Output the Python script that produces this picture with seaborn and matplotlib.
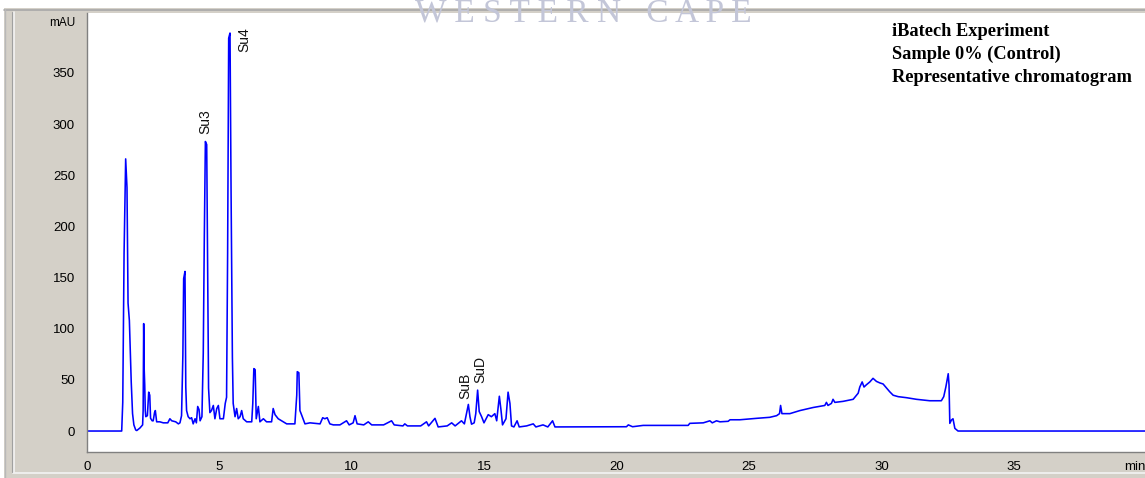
import matplotlib
matplotlib.use("Agg")
import matplotlib.pyplot as plt
import seaborn as sns
import pandas as pd
from matplotlib.patches import Rectangle
from matplotlib.lines import Line2D
from matplotlib.ticker import MultipleLocator, FixedLocator, FixedFormatter

# ---- data ----
retention_min = [
    0.00, 1.31, 1.35, 1.40, 1.46, 1.51, 1.55, 1.60, 1.63, 1.67, 1.72, 1.77, 1.84, 1.88, 2.00,
    2.10, 2.12, 2.14, 2.16, 2.18, 2.20, 2.22, 2.28, 2.33, 2.37, 2.40, 2.46, 2.50, 2.55, 2.58,
    2.63, 2.75, 2.88, 3.05, 3.13, 3.20, 3.35, 3.45, 3.51, 3.57, 3.62, 3.65, 3.70, 3.73, 3.76,
    3.82, 3.89, 3.95, 4.01, 4.08, 4.13, 4.18, 4.23, 4.27, 4.34, 4.39, 4.43, 4.47, 4.52, 4.56,
    4.59, 4.64, 4.70, 4.77, 4.83, 4.90, 4.96, 5.02, 5.15, 5.22, 5.27, 5.31, 5.35, 5.40, 5.44,
    5.49, 5.52, 5.59, 5.65, 5.71, 5.78, 5.84, 5.90, 6.03, 6.22, 6.26, 6.30, 6.35, 6.39, 6.47,
    6.53, 6.66, 6.78, 6.97, 7.03, 7.10, 7.22, 7.41, 7.54, 7.85, 7.92, 7.94, 8.00, 8.04, 8.10,
    8.23, 8.42, 8.80, 8.90, 8.98, 9.07, 9.17, 9.30, 9.55, 9.80, 9.90, 10.05, 10.12, 10.20, 10.45,
    10.62, 10.75, 11.20, 11.50, 11.60, 11.93, 12.00, 12.10, 12.60, 12.82, 12.90, 13.14, 13.26, 13.60, 13.77,
    13.90, 14.14, 14.25, 14.40, 14.46, 14.52, 14.62, 14.68, 14.75, 14.81, 14.90, 14.99, 15.15, 15.27, 15.40,
    15.47, 15.57, 15.63, 15.69, 15.82, 15.90, 15.97, 16.03, 16.12, 16.24, 16.32, 16.60, 16.85, 16.95, 17.22,
    17.40, 17.58, 17.67, 20.37, 20.44, 20.60, 21.00, 22.70, 22.76, 23.27, 23.52, 23.61, 23.77, 23.90, 24.21,
    24.28, 24.65, 25.28, 25.78, 26.04, 26.15, 26.19, 26.24, 26.54, 26.92, 27.42, 27.86, 27.92, 27.98, 28.11,
    28.17, 28.24, 28.55, 28.93, 29.12, 29.18, 29.27, 29.34, 29.42, 29.56, 29.68, 29.81, 29.94, 30.06, 30.19,
    30.31, 30.44, 30.63, 30.94, 31.32, 31.82, 32.26, 32.35, 32.43, 32.52, 32.55, 32.58, 32.64, 32.70, 32.77,
    32.89, 39.95,
]
absorbance_mau = [
    0, 0, 28, 174, 266, 238, 125, 108, 82, 48, 17, 6, 1, 0.5, 3,
    6, 20, 105, 60, 45, 20, 14, 15, 38, 35, 12.5, 10, 10, 18, 20,
    9, 9, 8, 8, 12, 10, 9, 7, 8, 15, 74, 149, 156, 43, 20,
    14, 12, 13, 7, 12, 8, 24, 21, 10, 14, 76, 190, 283, 280, 146,
    42, 18, 20, 25, 12, 22, 25, 12, 12, 27, 33, 174, 384, 389, 234,
    72, 27, 14, 22, 12, 14, 20, 12, 9, 9, 27, 61, 60, 12, 24,
    9, 12, 9, 9, 22, 16, 12, 9, 7, 7, 35, 58, 57, 20, 16,
    7, 8, 7, 13, 12, 13, 7, 6, 6, 10, 6, 8, 15, 7, 6,
    9, 6, 6, 10, 6, 5, 7, 5, 5, 9, 5, 12.4, 4, 5, 8,
    5, 10, 7, 26, 14, 6.7, 8, 17, 40, 19, 14, 8, 16, 14, 17,
    10, 34, 21, 6, 12, 38, 27, 5, 4, 10, 4, 5, 7, 4, 6,
    4, 10, 4, 4.2, 6, 4.2, 5.5, 5.5, 7.5, 8, 10, 8, 10, 9, 9.5,
    11, 11, 12.4, 13.4, 15, 17, 25, 17, 17, 20, 23, 25, 28, 25, 27,
    31, 28, 29, 31, 37, 43, 48, 43, 45, 48, 51.5, 48.5, 47, 46, 42,
    38.4, 35, 33.6, 32.6, 31, 29.6, 29.6, 33.6, 43, 56, 45, 7.5, 10.7, 12, 2.6,
    0, 0,
]

peak_names = ["Su3", "Su4", "SuB", "SuD"]
peak_label_time = [4.45, 5.93, 14.27, 14.84]
peak_label_base = [290, 370, 31, 47]

y_major_ticks = [0, 50, 100, 150, 200, 250, 300, 350, 400]
y_major_labels = ["0", "50", "100", "150", "200", "250", "300", "350", "mAU"]
x_major_ticks = [0, 5, 10, 15, 20, 25, 30, 35]
x_major_labels = ["0", "5", "10", "15", "20", "25", "30", "35"]
x_unit_label = "min"

info_lines = ["iBatech Experiment", "Sample 0% (Control)", "Representative chromatogram"]
watermark_text = "W E S T E R N   C A P E"

# ---- figure ----
W, H = 1145, 478
sns.set_style("white")
plt.rcParams["font.family"] = ["Liberation Sans", "DejaVu Sans"]

fig = plt.figure(figsize=(W / 100, H / 100), dpi=100, facecolor="white")


def px_rect(x0, y0, x1, y1, **kw):
    fig.patches.append(Rectangle((x0 / W, 1 - y1 / H), (x1 - x0) / W, (y1 - y0) / H,
                                 transform=fig.transFigure, figure=fig, **kw))


def px_line(x0, y0, x1, y1, **kw):
    fig.lines.append(Line2D([x0 / W, x1 / W], [1 - y0 / H, 1 - y1 / H],
                            transform=fig.transFigure, figure=fig, **kw))


# window-style frame
px_rect(4, 8, W, H, facecolor="#d4d0c8", edgecolor="none", zorder=-2)
px_line(4, 9.5, W, 9.5, color="#a8a8a8", lw=1.2, zorder=-1)
px_line(4.5, 9, 4.5, H, color="#b8b8b8", lw=1.0, zorder=-1)
px_line(13.5, 12, 13.5, 472, color="#f4f4f4", lw=1.2, zorder=-1)
px_line(13, 472.5, W, 472.5, color="#f4f4f4", lw=1.2, zorder=-1)
px_line(12, 12, 12, 472, color="#a0a0a0", lw=0.8, zorder=-1)

ax_left, ax_right, ax_top, ax_bottom = 87, W, 13, 452
ax = fig.add_axes([ax_left / W, (H - ax_bottom) / H, (ax_right - ax_left) / W, (ax_bottom - ax_top) / H])
ax.set_zorder(1)
ax.set_facecolor("white")

df = pd.DataFrame({"t": retention_min, "v": absorbance_mau})
sns.lineplot(data=df, x="t", y="v", ax=ax, color="#0000ff", linewidth=1.15,
             estimator=None, sort=False, legend=False)

ax.set_xlim(0, 39.95)
ax.set_ylim(-20.5, 408.6)
ax.set_xlabel("")
ax.set_ylabel("")

for side in ["top", "right"]:
    ax.spines[side].set_visible(False)
for side in ["left", "bottom"]:
    ax.spines[side].set_color("#808080")
    ax.spines[side].set_linewidth(1.0)

ax.yaxis.set_major_locator(FixedLocator(y_major_ticks))
ax.yaxis.set_major_formatter(FixedFormatter(y_major_labels))
ax.yaxis.set_minor_locator(MultipleLocator(10))
ax.xaxis.set_major_locator(FixedLocator(x_major_ticks))
ax.xaxis.set_major_formatter(FixedFormatter(x_major_labels))
ax.xaxis.set_minor_locator(MultipleLocator(1))

px = 0.72  # points per pixel at 100 dpi
ax.tick_params(axis="y", which="major", direction="out", length=8 * px, width=1.0,
               color="#707070", pad=4 * px, labelsize=9.5, labelcolor="#000000")
ax.tick_params(axis="y", which="minor", direction="out", length=5 * px, width=1.0, color="#808080")
ax.tick_params(axis="x", which="major", direction="out", length=5 * px, width=1.0,
               color="#707070", pad=4 * px, labelsize=9.5, labelcolor="#000000")
ax.tick_params(axis="x", which="minor", direction="out", length=3 * px, width=1.0, color="#808080")
for lab in ax.get_yticklabels():
    if lab.get_text() == "mAU":
        lab.set_fontsize(8.5)

ax.annotate(x_unit_label, xy=(39.17, 0), xycoords=("data", "axes fraction"),
            xytext=(0, -9 * px), textcoords="offset points", ha="left", va="top",
            fontsize=9.5, color="#000000", annotation_clip=False)

for name, t, base in zip(peak_names, peak_label_time, peak_label_base):
    ax.text(t, base, name, rotation=90, ha="center", va="bottom", fontsize=10,
            color="#111111", family=["Liberation Sans", "DejaVu Sans"])

for i, line in enumerate(info_lines):
    fig.text(892 / W, 1 - (32 + 22.5 * i) / H, line, ha="left", va="center",
             fontsize=13.2, fontweight="bold", family=["Liberation Serif", "DejaVu Serif"],
             color="#000000", zorder=6)

fig.text(583 / W, 1 - 22 / H, watermark_text, ha="center", va="baseline",
         fontsize=24, family=["Liberation Serif", "DejaVu Serif"], color="#c3c6d8", zorder=5)

fig.savefig("out.png", dpi=100, facecolor=fig.get_facecolor())
